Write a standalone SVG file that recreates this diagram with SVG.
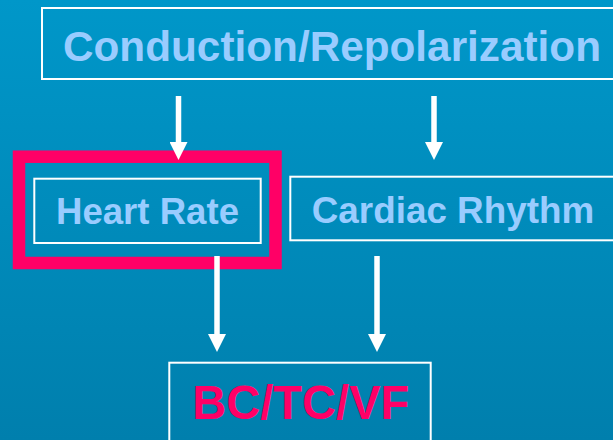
<svg xmlns="http://www.w3.org/2000/svg" width="613" height="440" viewBox="0 0 613 440">
  <defs>
    <linearGradient id="bg" x1="0" y1="0" x2="0" y2="1">
      <stop offset="0" stop-color="#0097C9"/>
      <stop offset="1" stop-color="#007FAD"/>
    </linearGradient>
    <marker id="arrow" viewBox="0 0 18 18" refX="0" refY="9" markerWidth="18" markerHeight="18" markerUnits="userSpaceOnUse" orient="auto">
      <path d="M0,0 L18,9 L0,18 z" fill="#FFFFFF"/>
    </marker>
  </defs>
  <style>
    .box { fill: none; stroke: #FFFFFF; stroke-width: 2; }
    .label { font-family: "Liberation Sans", Arial, sans-serif; font-weight: bold; fill: #99CCFF; }
    .hot { fill: #FF0066; }
    .conn { stroke: #FFFFFF; stroke-width: 5.5; fill: none; marker-end: url(#arrow); }
  </style>
  <rect x="0" y="0" width="613" height="440" fill="url(#bg)"/>

  <g id="node-conduction">
    <rect class="box" x="42" y="8" width="600" height="71"/>
    <text class="label" x="63" y="61" font-size="42.3" textLength="538" lengthAdjust="spacingAndGlyphs">Conduction/Repolarization</text>
  </g>

  <g id="node-heart-rate">
    <rect x="19" y="156.7" width="256.5" height="106.3" fill="none" stroke="#FF0066" stroke-width="12.5"/>
    <rect class="box" x="34.3" y="178.7" width="226.4" height="64.3"/>
    <text class="label" x="56" y="224" font-size="36.6" textLength="183" lengthAdjust="spacingAndGlyphs">Heart Rate</text>
  </g>

  <g id="node-cardiac-rhythm">
    <rect class="box" x="290.3" y="176.7" width="340" height="63.6"/>
    <text class="label" x="311.7" y="223.3" font-size="36.8" textLength="282.6" lengthAdjust="spacingAndGlyphs">Cardiac Rhythm</text>
  </g>

  <g id="node-bc-tc-vf">
    <rect class="box" x="169.3" y="362.7" width="261.4" height="100"/>
    <text class="label hot" x="192.3" y="419" font-size="47.5" textLength="217" lengthAdjust="spacingAndGlyphs">BC/TC/VF</text>
  </g>

  <g id="connectors">
    <line class="conn" x1="178.5" y1="96" x2="178.5" y2="142"/>
    <line class="conn" x1="434" y1="96" x2="434" y2="142"/>
    <line class="conn" x1="217" y1="256" x2="217" y2="334"/>
    <line class="conn" x1="377" y1="256" x2="377" y2="334"/>
  </g>
</svg>
